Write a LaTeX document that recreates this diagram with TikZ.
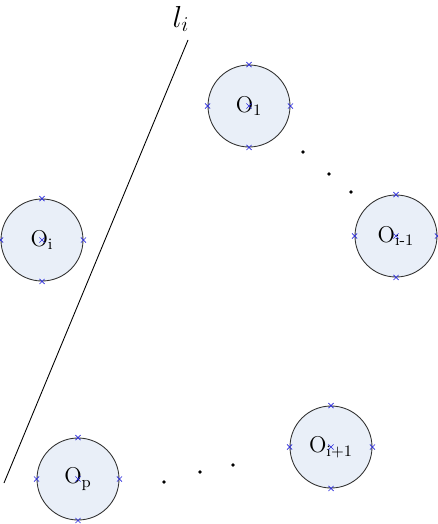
\documentclass[tikz,border=0pt]{standalone}
\usepackage{tikz}
\usetikzlibrary{shapes.misc}
\definecolor[named]{myColorFill}{RGB}{233,239,248}
\definecolor[named]{myColorMark}{RGB}{40,40,220}

\begin{document}
\begin{tikzpicture}
[%
    x=0.02cm,
    y=-0.02cm,
    disc/.style={
      circle,
      draw=black!80,
      fill=myColorFill,
      line width=0.5pt,
      inner sep=0pt,
      minimum size=1.64cm,
      font=\fontsize{13}{15}\selectfont
    },
    xmark/.style={
      cross out,
      draw=myColorMark,
      line width=0.35pt,
      inner sep=0pt,
      minimum size=0.09cm
    },
    dot/.style={
      circle,
      fill=black,
      inner sep=0pt,
      minimum size=2.2pt
    }
  ]
  \useasboundingbox (0,0) rectangle (438,524);
  %line
  \coordinate (lb) at (4,483);
  \coordinate (lt) at (188,40);
  \draw[line width=0.5pt] (lb) -- (lt);
  \node at (181,19) (li) {\fontsize{18}{20}\selectfont $l_i$};

  %circles
  \draw (249,106) node[disc] (c1) {O\textsubscript{1}};
  \draw (42,240) node[disc] (ci) {O\textsubscript{i}};
  \draw (396,236) node[disc] (cim) {O\textsubscript{i-1}};
  \draw (331,447) node[disc] (cip) {O\textsubscript{i+1}};
  \draw (78,479) node[disc] (cp) {O\textsubscript{p}};

  \foreach \c in {c1,ci,cim,cip,cp}
    \foreach \a in {north,south,east,west,center}
      \node[xmark] at (\c.\a) {};

  %dots
  \node[dot] (d1) at (303,152) {};
  \node[dot] (d2) at (329,174) {};
  \node[dot] (d3) at (351,192) {};
  \node[dot] (d4) at (164,482) {};
  \node[dot] (d5) at (200,472) {};
  \node[dot] (d6) at (233,465) {};
\end{tikzpicture}
\end{document}
